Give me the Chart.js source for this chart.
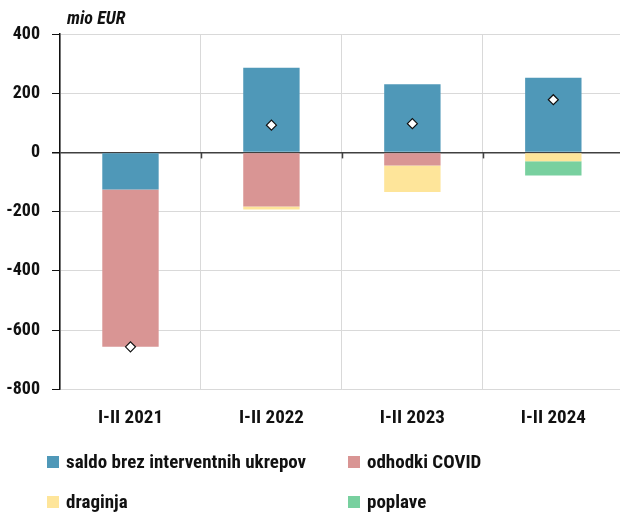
<!DOCTYPE html>
<html>
<head>
<meta charset="utf-8">
<script src="https://cdn.jsdelivr.net/npm/chart.js@4"></script>
<style>
  html, body { margin: 0; padding: 0; background: #fff; overflow: hidden; }
  #wrap { width: 620px; height: 514px; position: relative; overflow: hidden; }
</style>
</head>
<body>
<div id="wrap"><canvas id="chart" width="630" height="514"></canvas></div>
<script>
// data (mio EUR)
const categories = ["I-II 2021", "I-II 2022", "I-II 2023", "I-II 2024"];
const saldoBrez = [-125, 286, 230, 252];
const odhodkiCovid = [-532, -183, -44, 0];
const draginja = [0, -10, -90, -30];
const poplave = [0, 0, 0, -48];
const saldoSkupaj = [-657, 92, 97, 178];
const yTicks = [400, 200, 0, -200, -400, -600, -800];

const FONT = "'Roboto Condensed', Roboto, sans-serif";
const W = "bold condensed";
const TEXT = "#111111";

// extra bits: unit label, ticks on the zero line, 2-column legend
const extras = {
  id: "extras",
  afterDraw(chart) {
    const ctx = chart.ctx;
    const x = chart.scales.x, y = chart.scales.y;
    ctx.save();

    ctx.fillStyle = TEXT;
    ctx.font = "italic " + W + " 18px " + FONT;
    ctx.textBaseline = "middle";
    ctx.textAlign = "left";
    ctx.fillText("mio EUR", 67, 19);

    // zero line ticks at category boundaries
    const y0 = y.getPixelForValue(0);
    ctx.strokeStyle = "#404040";
    ctx.lineWidth = 1.5;
    for (let i = 1; i < categories.length; i++) {
      const bx = Math.round((x.getPixelForValue(i - 1) + x.getPixelForValue(i)) / 2) + 0.5;
      ctx.beginPath();
      ctx.moveTo(bx, y0);
      ctx.lineTo(bx, y0 + 6);
      ctx.stroke();
    }

    // legend
    const items = chart.data.datasets.filter(d => d.type !== "line");
    const cols = [47, 348];
    const rows = [462, 502];
    ctx.font = W + " 19px " + FONT;
    items.forEach((d, i) => {
      const cx = cols[i % 2], cy = rows[Math.floor(i / 2)];
      ctx.fillStyle = d.backgroundColor;
      ctx.fillRect(cx, cy - 6, 12, 12);
      ctx.fillStyle = TEXT;
      ctx.fillText(d.label, cx + 19, cy + 1);
    });
    ctx.restore();
  }
};

const ctx = document.getElementById("chart").getContext("2d");
new Chart(ctx, {
  data: {
    labels: categories,
    datasets: [
      {
        type: "line",
        label: "saldo",
        data: saldoSkupaj,
        stack: "skupaj",
        showLine: false,
        pointStyle: "rectRot",
        pointRadius: 5,
        pointBackgroundColor: "#ffffff",
        pointBorderColor: "#111111",
        pointBorderWidth: 1.2,
        order: 0
      },
      { type: "bar", label: "saldo brez interventnih ukrepov", data: saldoBrez, backgroundColor: "#4f98b8", stack: "s", order: 1 },
      { type: "bar", label: "odhodki COVID", data: odhodkiCovid, backgroundColor: "#d99594", stack: "s", order: 1 },
      { type: "bar", label: "draginja", data: draginja, backgroundColor: "#fee59a", stack: "s", order: 1 },
      { type: "bar", label: "poplave", data: poplave, backgroundColor: "#78d09f", stack: "s", order: 1 }
    ]
  },
  options: {
    responsive: false,
    animation: false,
    layout: { padding: { top: 34, right: 0, bottom: 66, left: 0 } },
    datasets: { bar: { barPercentage: 0.4, categoryPercentage: 1.0 } },
    plugins: {
      legend: { display: false },
      tooltip: { enabled: false }
    },
    scales: {
      x: {
        stacked: true,
        offset: true,
        border: { display: false },
        grid: { offset: true, color: "#d9d9d9", lineWidth: 1, drawTicks: false },
        ticks: { color: TEXT, font: { family: FONT, size: 19, weight: W }, padding: 18 }
      },
      y: {
        stacked: true,
        min: -800,
        max: 400,
        afterBuildTicks: s => { s.ticks = yTicks.map(v => ({ value: v })); },
        afterFit: s => { s.width = 60; },
        border: { display: true, color: "#111111", width: 1.5 },
        grid: {
          color: c => c.tick && c.tick.value === 0 ? "#404040" : "#d9d9d9",
          lineWidth: c => c.tick && c.tick.value === 0 ? 1.5 : 1,
          tickLength: 8,
          tickColor: "#111111"
        },
        ticks: { color: TEXT, font: { family: FONT, size: 18, weight: W }, padding: 12 }
      }
    }
  },
  plugins: [extras]
});
</script>
</body>
</html>
